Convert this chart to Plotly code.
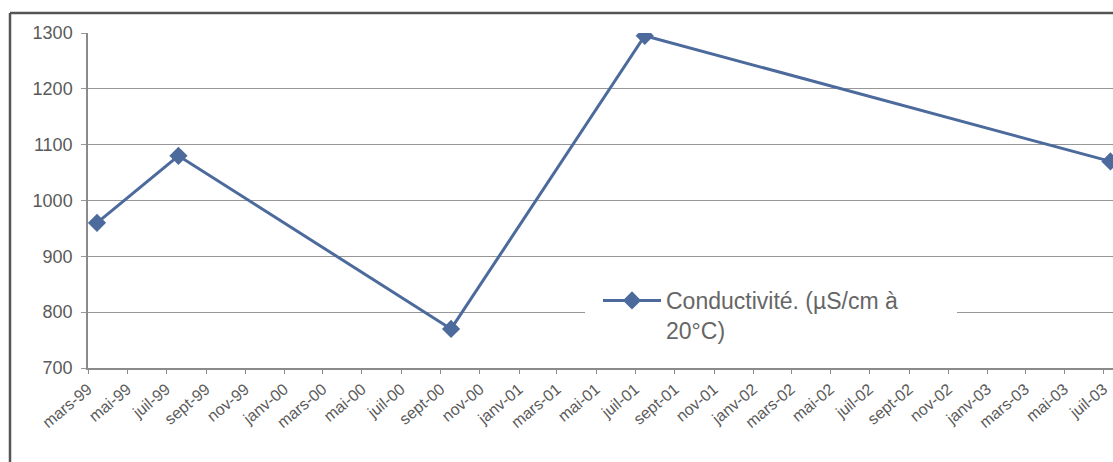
import plotly.graph_objects as go

# données
dates = ["1999-03-15", "1999-07-20", "2000-09-17", "2001-07-16", "2003-07-12"]
conductivite = [960, 1080, 770, 1295, 1070]
serie_nom = "Conductivité. (µS/cm à<br>20°C)"

# graduations (tous les 2 mois)
tick_dates = [
    "1999-03-01", "1999-05-01", "1999-07-01", "1999-09-01", "1999-11-01",
    "2000-01-01", "2000-03-01", "2000-05-01", "2000-07-01", "2000-09-01", "2000-11-01",
    "2001-01-01", "2001-03-01", "2001-05-01", "2001-07-01", "2001-09-01", "2001-11-01",
    "2002-01-01", "2002-03-01", "2002-05-01", "2002-07-01", "2002-09-01", "2002-11-01",
    "2003-01-01", "2003-03-01", "2003-05-01", "2003-07-01",
]
tick_labels = [
    "mars-99", "mai-99", "juil-99", "sept-99", "nov-99",
    "janv-00", "mars-00", "mai-00", "juil-00", "sept-00", "nov-00",
    "janv-01", "mars-01", "mai-01", "juil-01", "sept-01", "nov-01",
    "janv-02", "mars-02", "mai-02", "juil-02", "sept-02", "nov-02",
    "janv-03", "mars-03", "mai-03", "juil-03",
]
y_ticks = [700, 800, 900, 1000, 1100, 1200, 1300]

W, H = 1113, 462
ML, MT, MB = 88, 33, 94
PW, PH = W - ML, H - MT - MB

fig = go.Figure()
fig.add_trace(go.Scatter(
    x=dates, y=conductivite, name=serie_nom,
    mode="lines+markers",
    line=dict(color="#4c6a9c", width=3),
    marker=dict(symbol="diamond", size=14, color="#4c6a9c"),
    showlegend=True,
))

grey_txt = "#5a5a5a"
fig.update_layout(
    width=W, height=H,
    margin=dict(l=ML, r=0, t=MT, b=MB),
    paper_bgcolor="white", plot_bgcolor="white",
    font=dict(family="Liberation Sans, Arial, sans-serif", color=grey_txt),
    showlegend=True,
    legend=dict(
        x=(598 - ML) / PW, y=(368 - 279) / PH,
        xanchor="left", yanchor="top",
        bgcolor="rgba(0,0,0,0)", font=dict(size=23, color="#666666"),
        valign="top", itemwidth=58,
    ),
)

fig.update_xaxes(
    type="date",
    range=["1999-03-01", "2003-07-16"],
    tickmode="array", tickvals=tick_dates, ticktext=tick_labels,
    tickangle=-40, tickfont=dict(size=16, color=grey_txt),
    showgrid=False, showline=True, linecolor="#8a8a8a", linewidth=1.5,
    ticks="outside", ticklen=4, tickcolor="#8a8a8a",
)
fig.update_yaxes(
    range=[700, 1300],
    tickmode="array", tickvals=y_ticks,
    tickfont=dict(size=18, color=grey_txt),
    showgrid=True, gridcolor="#979797", gridwidth=1.2,
    showline=True, linecolor="#8a8a8a", linewidth=1.5,
    ticks="outside", ticklen=5, tickcolor="#979797",
    ticklabelstandoff=5, zeroline=False,
)

# cadre blanc de la légende (masque le quadrillage)
fig.add_shape(type="rect", xref="paper", yref="paper",
              x0=(585 - ML) / PW, x1=(957 - ML) / PW,
              y0=(368 - 355) / PH, y1=(368 - 268) / PH,
              fillcolor="white", line=dict(width=0), layer="above")

# bordure du graphique (haut et gauche)
fig.add_shape(type="line", xref="paper", yref="paper",
              x0=(10 - ML) / PW, x1=1.0,
              y0=(H - MB - 13) / PH, y1=(H - MB - 13) / PH,
              line=dict(color="#555555", width=2.5))
fig.add_shape(type="line", xref="paper", yref="paper",
              x0=(10 - ML) / PW, x1=(10 - ML) / PW,
              y0=(H - MB - 13) / PH, y1=-MB / PH,
              line=dict(color="#555555", width=2.5))

fig.write_html("out.html", config={"displayModeBar": False},
               post_script="document.body.style.margin='0';")
